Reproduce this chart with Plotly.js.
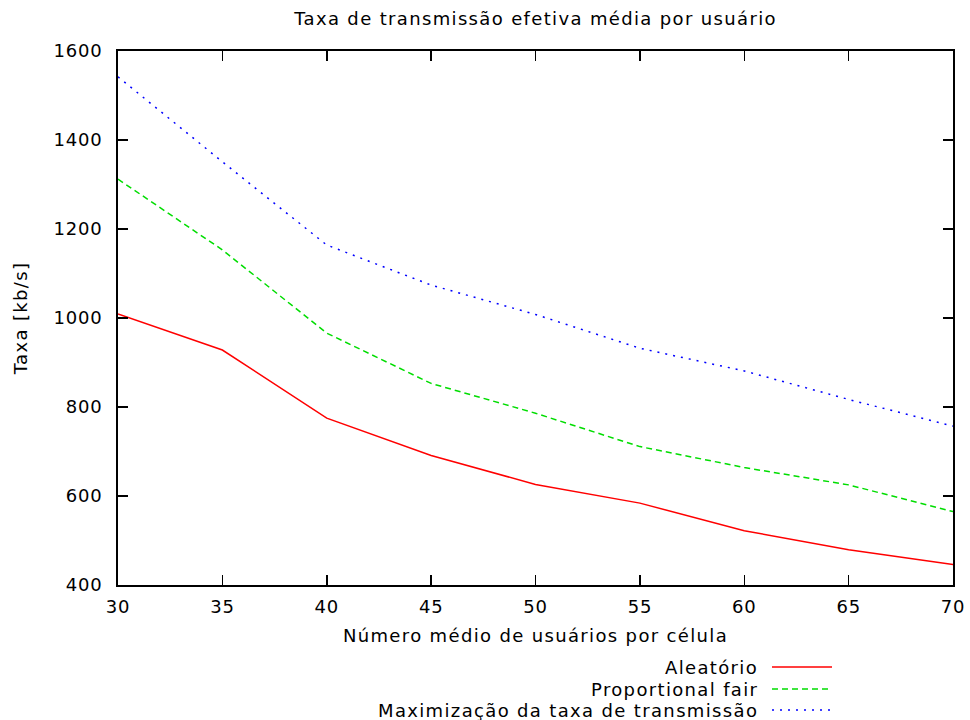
<!DOCTYPE html>
<html>
<head>
<meta charset="utf-8">
<script src="https://cdn.plot.ly/plotly-3.0.1.min.js"></script>
<style>
html,body{margin:0;padding:0;background:#fff;}
#chart{width:970px;height:720px;}
svg text{letter-spacing:1.35px;}
#chart .xtick text, #chart .ytick text{letter-spacing:0.75px;}
</style>
</head>
<body>
<div id="chart"></div>
<script>
const usuarios = [30, 35, 40, 45, 50, 55, 60, 65, 70];
const aleatorio = [1009, 928, 775, 691, 626, 584, 522, 479, 446];
const proportionalFair = [1312, 1153, 966, 853, 786, 711, 664, 625, 565];
const maxTaxa = [1542, 1351, 1164, 1074, 1008, 932, 881, 817, 757];
const seriesNames = ["Aleatório", "Proportional fair", "Maximização da taxa de transmissão"];
const xTicks = [30, 35, 40, 45, 50, 55, 60, 65, 70];
const yTicks = [400, 600, 800, 1000, 1200, 1400, 1600];

const colors = ["#ff0000", "#00dd00", "#0000ff"];
const dashes = ["solid", "6px,4px", "2px,6px"];
const F = "DejaVu Sans, Verdana, sans-serif";

const ys = [aleatorio, proportionalFair, maxTaxa];
const traces = ys.map((y, i) => ({
  x: usuarios, y: y, type: "scatter", mode: "lines", name: seriesNames[i],
  line: {color: colors[i], width: 1.5, dash: dashes[i]}, showlegend: false
}));

const W = 970, H = 720, L = 118, R = 17, T = 51, B = 135;
const pw = W - L - R, ph = H - T - B;
const rowsPx = [667, 689, 710];
const annotations = [], shapes = [];
rowsPx.forEach((py, i) => {
  const yp = (H - B - py) / ph;
  annotations.push({
    xref: "paper", yref: "paper", x: (760 - L) / pw, y: yp, xanchor: "right", yanchor: "middle",
    text: seriesNames[i], showarrow: false, font: {family: F, size: 18, color: "#000"}
  });
  shapes.push({
    type: "line", xref: "paper", yref: "paper",
    x0: (772 - L) / pw, x1: (832 - L) / pw, y0: yp, y1: yp,
    line: {color: colors[i], width: 1.5, dash: dashes[i]}
  });
});

const layout = {
  width: W, height: H,
  margin: {l: L, r: R, t: T, b: B},
  paper_bgcolor: "#fff", plot_bgcolor: "#fff",
  font: {family: F, size: 18, color: "#000"},
  title: {text: "Taxa de transmissão efetiva média por usuário", x: 0.5 * (L + W - R) / W, xanchor: "center",
          y: 1 - 19 / H, yanchor: "middle", yref: "container", font: {family: F, size: 18, color: "#000"}},
  showlegend: false,
  xaxis: {
    range: [30, 70], tickvals: xTicks, ticktext: xTicks.map(String),
    ticks: "inside", ticklen: 10, tickwidth: 1.5, tickcolor: "#000",
    showline: true, linecolor: "#000", linewidth: 2, mirror: "ticks",
    showgrid: false, zeroline: false, ticklabelstandoff: 4,
    title: {text: "Número médio de usuários por célula", standoff: 14, font: {family: F, size: 18}}
  },
  yaxis: {
    range: [400, 1600], tickvals: yTicks, ticktext: yTicks.map(String),
    ticks: "inside", ticklen: 10, tickwidth: 1.5, tickcolor: "#000",
    showline: true, linecolor: "#000", linewidth: 2, mirror: "ticks",
    showgrid: false, zeroline: false, ticklabelstandoff: 10,
    title: {text: "Taxa [kb/s]", standoff: 19, font: {family: F, size: 18}}
  },
  annotations: annotations,
  shapes: shapes
};

Plotly.newPlot("chart", traces, layout, {displayModeBar: false, staticPlot: true});
</script>
</body>
</html>
